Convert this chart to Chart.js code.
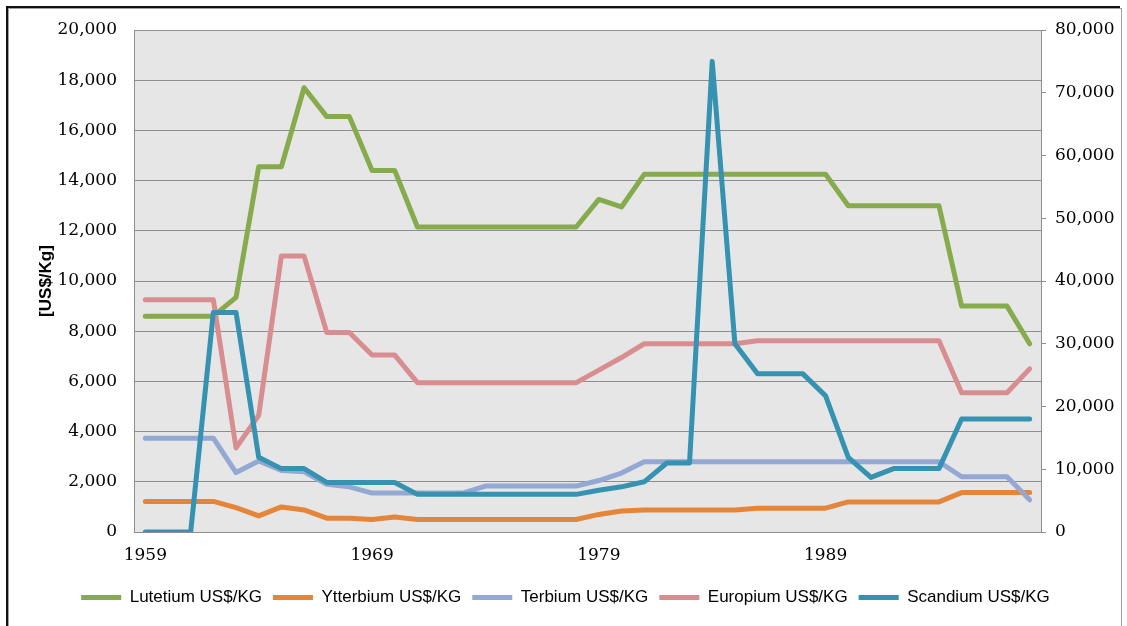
<!DOCTYPE html>
<html>
<head>
<meta charset="utf-8">
<script src="https://cdn.jsdelivr.net/npm/chart.js@4.4.1/dist/chart.umd.min.js"></script>
<style>
    html, body { margin: 0; padding: 0; background: #fff; }
    #wrap { position: relative; width: 1127px; height: 626px; overflow: hidden; }
    #frame {
        position: absolute; left: 8px; top: 8px; width: 1112px; height: 640px;
        border: 1px solid #a0a0a0; box-shadow: -2px -2px 0 0 #111;
    }
    #chartCanvas { position: absolute; left: 0; top: 0; }
</style>
</head>
<body>
<div id="wrap">
    <div id="frame"></div>
    <canvas id="chartCanvas" width="1127" height="626"></canvas>
</div>
<script>
// years on the category axis
const years = [
    '1959', '1960', '1961', '1962', '1963', '1964', '1965', '1966', '1967', '1968',
    '1969', '1970', '1971', '1972', '1973', '1974', '1975', '1976', '1977', '1978',
    '1979', '1980', '1981', '1982', '1983', '1984', '1985', '1986', '1987', '1988',
    '1989', '1990', '1991', '1992', '1993', '1994', '1995', '1996', '1997', '1998'
];

// left axis, US$/kg
const lutetium = [
    8600, 8600, 8600, 8600, 9350, 14550, 14550, 17700, 16550, 16550,
    14400, 14400, 12150, 12150, 12150, 12150, 12150, 12150, 12150, 12150,
    13250, 12950, 14250, 14250, 14250, 14250, 14250, 14250, 14250, 14250,
    14250, 13000, 13000, 13000, 13000, 13000, 9000, 9000, 9000, 7500
];
const ytterbium = [
    1220, 1220, 1220, 1220, 970, 640, 1000, 880, 550, 550,
    500, 600, 500, 500, 500, 500, 500, 500, 500, 500,
    700, 840, 880, 880, 880, 880, 880, 950, 950, 950,
    950, 1200, 1200, 1200, 1200, 1200, 1570, 1570, 1570, 1570
];
const terbium = [
    3740, 3740, 3740, 3740, 2370, 2830, 2450, 2400, 1900, 1800,
    1550, 1550, 1550, 1550, 1550, 1830, 1830, 1830, 1830, 1830,
    2050, 2350, 2800, 2800, 2800, 2800, 2800, 2800, 2800, 2800,
    2800, 2800, 2800, 2800, 2800, 2800, 2200, 2200, 2200, 1280
];
const europium = [
    9250, 9250, 9250, 9250, 3350, 4650, 11000, 11000, 7950, 7950,
    7050, 7050, 5950, 5950, 5950, 5950, 5950, 5950, 5950, 5950,
    6450, 6950, 7500, 7500, 7500, 7500, 7500, 7620, 7620, 7620,
    7620, 7620, 7620, 7620, 7620, 7620, 5550, 5550, 5550, 6500
];
// right axis, US$/kg
const scandium = [
    0, 0, 0, 35000, 35000, 11900, 10100, 10100, 7900, 7900,
    7900, 7900, 6000, 6000, 6000, 6000, 6000, 6000, 6000, 6000,
    6650, 7200, 8000, 11000, 11000, 75000, 30000, 25200, 25200, 25200,
    21700, 11900, 8700, 10100, 10100, 10100, 18000, 18000, 18000, 18000
];

const shownYears = ['1959', '1969', '1979', '1989'];
const seriesNames = ['Lutetium US$/KG', 'Ytterbium US$/KG', 'Terbium US$/KG', 'Europium US$/KG', 'Scandium US$/KG'];
const seriesColors = ['#86ab4c', '#e5853a', '#93a8d2', '#d88e90', '#3592b0'];

const tickFont = { family: 'DejaVu Serif', size: 17 };
const gridGray = '#8e8e8e';

// grey plot background like the excel chart
const plotBg = {
    id: 'plotBg',
    beforeDraw(chart) {
        const a = chart.chartArea;
        const ctx = chart.ctx;
        ctx.save();
        ctx.fillStyle = '#e6e6e6';
        ctx.fillRect(a.left, a.top, a.right - a.left, a.bottom - a.top);
        ctx.restore();
    }
};

function makeSet(i, values, axis) {
    return {
        label: seriesNames[i],
        data: values,
        yAxisID: axis,
        borderColor: seriesColors[i],
        backgroundColor: seriesColors[i],
        borderWidth: 5,
        borderCapStyle: 'round',
        borderJoinStyle: 'round',
        pointRadius: 0,
        tension: 0,
        order: 5 - i
    };
}

let ctx = document.getElementById('chartCanvas');
let chart = new Chart(ctx, {
    type: 'line',
    data: {
        labels: years,
        datasets: [
            makeSet(0, lutetium, 'y'),
            makeSet(1, ytterbium, 'y'),
            makeSet(2, terbium, 'y'),
            makeSet(3, europium, 'y'),
            makeSet(4, scandium, 'y1')
        ]
    },
    options: {
        responsive: false,
        animation: false,
        locale: 'en-US',
        layout: { padding: { top: 30, left: 10, right: 6, bottom: 10 } },
        plugins: {
            tooltip: { enabled: false },
            legend: {
                position: 'bottom',
                labels: {
                    usePointStyle: true,
                    pointStyle: 'line',
                    pointStyleWidth: 40,
                    padding: 11,
                    color: '#000',
                    font: { family: 'Liberation Sans', size: 17 },
                    sort: (a, b) => a.datasetIndex - b.datasetIndex
                }
            }
        },
        scales: {
            x: {
                offset: true,
                grid: { display: false, drawTicks: false },
                border: { display: true, color: gridGray, width: 1 },
                ticks: {
                    autoSkip: false,
                    maxRotation: 0,
                    padding: 13,
                    color: '#000',
                    font: tickFont,
                    callback: function (val, idx) {
                        let lbl = this.getLabelForValue(val);
                        return shownYears.includes(lbl) ? lbl : '';
                    }
                },
                afterFit: (scale) => { scale.height = 46; }
            },
            y: {
                position: 'left',
                min: 0,
                max: 20000,
                ticks: { stepSize: 2000, padding: 17, color: '#000', font: tickFont },
                grid: { color: gridGray, lineWidth: 1, drawTicks: false },
                border: { display: true, color: gridGray, width: 1 },
                title: {
                    display: true,
                    text: '[US$/Kg]',
                    color: '#000',
                    font: { family: 'Liberation Sans', size: 17, weight: 'bold' },
                    padding: { top: 26, bottom: 0 }
                },
                afterFit: (scale) => { scale.width = 124; }
            },
            y1: {
                position: 'right',
                min: 0,
                max: 80000,
                ticks: { stepSize: 10000, padding: 9, color: '#000', font: tickFont },
                grid: { drawOnChartArea: false, color: gridGray, tickLength: 5 },
                border: { display: true, color: gridGray, width: 1 },
                afterFit: (scale) => { scale.width = 80; }
            }
        }
    },
    plugins: [plotBg]
});
</script>
</body>
</html>
